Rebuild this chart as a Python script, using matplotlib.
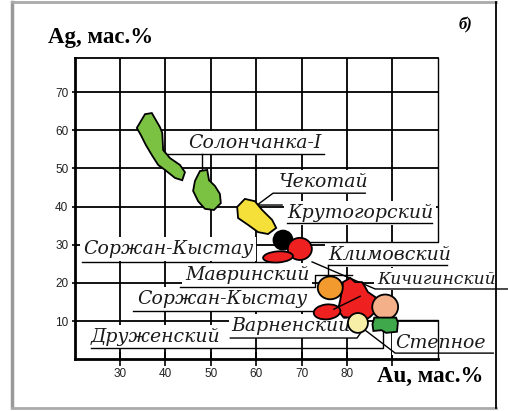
import matplotlib.pyplot as plt
from matplotlib.patches import Polygon, Ellipse
from matplotlib.lines import Line2D

# Au-Ag compositional fields of gold deposits
au_ticks = [30, 40, 50, 60, 70, 80, 90]
au_labels = ["30", "40", "50", "60", "70", "80", ""]
ag_ticks = [10, 20, 30, 40, 50, 60, 70]

# irregular fields: (Au, Ag) outlines
solonchanka_a = [(33.7, 60.6), (35.5, 64.2), (37.0, 64.5), (38.8, 60.8), (39.3, 59.3),
                 (39.5, 54.8), (41.0, 52.7), (43.2, 50.9), (44.3, 49.0), (43.7, 46.9),
                 (42.1, 47.5), (39.9, 49.6), (38.4, 50.9), (37.0, 53.5), (35.7, 56.1),
                 (34.6, 58.7)]
solonchanka_b = [(47.6, 49.3), (49.2, 49.6), (49.6, 46.9), (50.9, 45.4), (52.0, 43.3),
                 (52.2, 40.9), (50.7, 39.1), (48.7, 39.4), (47.2, 41.4), (46.1, 44.1),
                 (46.5, 46.7)]
chekotai = [(55.8, 39.9), (57.5, 42.0), (59.7, 41.4), (61.3, 39.1), (63.5, 36.5),
            (64.4, 34.4), (62.6, 32.8), (60.4, 33.3), (58.2, 35.2), (56.0, 37.0)]
kichiginsky_red = [(79.1, 20.2), (80.7, 21.3), (81.8, 20.2), (83.3, 20.2), (84.0, 18.9),
                   (84.6, 17.6), (86.2, 16.3), (86.8, 14.7), (86.2, 12.4), (85.1, 11.1),
                   (84.0, 10.3), (82.4, 11.1), (81.1, 10.8), (79.1, 11.1), (78.0, 12.9),
                   (78.5, 15.5), (78.9, 18.1)]
stepnoe = [(86.0, 10.9), (90.8, 10.9), (91.2, 9.6), (91.0, 7.2), (88.6, 6.9),
           (87.6, 7.6), (85.8, 7.4), (85.6, 9.2)]

# oval fields: centre Au, centre Ag, width, height, angle, colour
ovals = [
    (65.9, 31.2, 4.2, 5.0, 0, "#000000"),     # Крутогорский
    (69.6, 28.9, 5.3, 5.8, 0, "#ee2020"),     # Климовский
    (64.8, 26.8, 6.6, 2.9, 5, "#ee2020"),     # Соржан-Кыстау
    (76.3, 18.7, 5.5, 6.0, 0, "#f39a2e"),     # Мавринский
    (75.6, 12.4, 5.9, 3.9, 8, "#ee2020"),     # Соржан-Кыстау
    (88.4, 13.7, 5.7, 6.5, 0, "#f4b088"),     # Кичигинский
    (82.4, 9.5, 4.4, 5.2, 0, "#f7efa8"),      # Варненский
]

# field names: text, Au, Ag of the text start
names = ["Солончанка-I", "Чекотай", "Крутогорский", "Соржан-Кыстау", "Мавринский",
         "Климовский", "Кичигинский", "Соржан-Кыстау", "Варненский", "Друженский",
         "Степное"]
name_au = [45.0, 65.0, 66.8, 21.9, 44.3, 75.8, 86.6, 33.7, 54.6, 23.6, 90.6]
name_ag = [56.6, 46.4, 38.3, 28.9, 22.1, 27.3, 21.0, 15.8, 8.7, 5.8, 4.2]

# underlines and leader lines, each as (Au list, Ag list)
leaders = [
    ([39.9, 74.9], [53.8, 53.8]),
    ([48.1, 48.1], [53.8, 49.3]),
    ([84.0, 63.7, 60.2, 65.7], [43.5, 43.5, 40.4, 40.4]),
    ([66.8, 98.7], [35.7, 35.7]),
    ([67.4, 100.0, 100.0], [30.7, 30.7, 79.0]),
    ([21.6, 63.5], [25.5, 25.5]),
    ([75.8, 102.0], [24.7, 24.7]),
    ([75.8, 75.8], [24.7, 21.0]),
    ([43.2, 73.0, 73.0, 81.1], [19.0, 19.0, 22.1, 22.1]),
    ([72.3, 86.2, 116.0], [25.5, 18.4, 18.4]),
    ([32.9, 73.6], [12.6, 12.6]),
    ([54.3, 82.2, 83.3], [5.55, 5.55, 7.4]),
    ([23.6, 87.9, 87.9], [2.9, 2.9, 7.6]),
    ([84.0, 90.6, 112.2], [7.6, 1.6, 1.6]),
    ([91.0, 100.0, 100.0], [10.3, 10.3, 0.0]),
]

fig = plt.figure(figsize=(5.08, 4.11), dpi=100)
ax = fig.add_axes([0.1469, 0.126, 0.715, 0.7336])
ax.set_xlim(20, 100)
ax.set_ylim(0, 79)

ax.set_xticks(au_ticks)
ax.set_xticklabels(au_labels)
ax.set_yticks(ag_ticks)
ax.tick_params(axis="x", direction="inout", length=10, width=1.2, pad=1,
               labelsize=8.5, labelcolor="#222222")
ax.tick_params(axis="y", direction="out", length=2.5, width=1.2, pad=2,
               labelsize=8.5, labelcolor="#222222")
for lab in ax.get_xticklabels() + ax.get_yticklabels():
    lab.set_fontfamily("Liberation Sans")
ax.grid(True, color="black", linewidth=1.3, zorder=1)
ax.set_axisbelow(True)
ax.spines["right"].set_visible(False)
ax.spines["left"].set_linewidth(2.0)
ax.spines["bottom"].set_linewidth(2.0)
ax.spines["top"].set_linewidth(1.3)

# the name at the right edge is set a little smaller so it stays on the page
small_names = {"Кичигинский": 12.3}
for name, x, y in zip(names, name_au, name_ag):
    ax.text(x, y, name, ha="left", va="center", fontsize=small_names.get(name, 13.6),
            style="italic", family="DejaVu Serif", color="#1a1a1a", zorder=4,
            clip_on=False, bbox=dict(facecolor="white", edgecolor="none", pad=2.0))

for xs, ys in leaders:
    ax.plot(xs, ys, color="black", linewidth=1.0, zorder=5, clip_on=False)

field_style = dict(edgecolor="black", linewidth=1.3, zorder=6)
ax.add_patch(Polygon(solonchanka_a, facecolor="#7cc242", **field_style))
ax.add_patch(Polygon(solonchanka_b, facecolor="#7cc242", **field_style))
ax.add_patch(Polygon(chekotai, facecolor="#f5e03a", **field_style))
ax.add_patch(Polygon(kichiginsky_red, facecolor="#ee2020", **field_style))
for x, y, w, h, ang, col in ovals:
    ax.add_patch(Ellipse((x, y), w, h, angle=ang, facecolor=col, **field_style))
ax.add_patch(Polygon(stepnoe, facecolor="#3ea84a", **field_style))
ax.plot([77.1, 82.9], [13.1, 16.5], color="black", linewidth=1.0, zorder=7)

# axis titles and panel letter
fig.text(48 / 508, 1 - 37 / 411, "Ag, мас.%", ha="left", va="center",
         fontsize=16.5, fontweight="bold", family="Liberation Serif")
fig.text(377 / 508, 1 - 376 / 411, "Au, мас.%", ha="left", va="center",
         fontsize=16.5, fontweight="bold", family="Liberation Serif")
fig.text(465 / 508, 1 - 25 / 411, "б)", ha="center", va="center",
         fontsize=12, style="italic", fontweight="bold", family="Liberation Serif")

# page frame
fig.add_artist(Line2D([12 / 508, 12 / 508], [0.01, 0.995], color="#999999", linewidth=2.5))
fig.add_artist(Line2D([12 / 508, 496 / 508], [0.995, 0.995], color="#aaaaaa", linewidth=2.0))
fig.add_artist(Line2D([12 / 508, 496 / 508], [0.008, 0.008], color="#aaaaaa", linewidth=2.0))
fig.add_artist(Line2D([496 / 508, 496 / 508], [0.008, 0.995], color="black", linewidth=1.3))

fig.savefig("out.png", dpi=100)
